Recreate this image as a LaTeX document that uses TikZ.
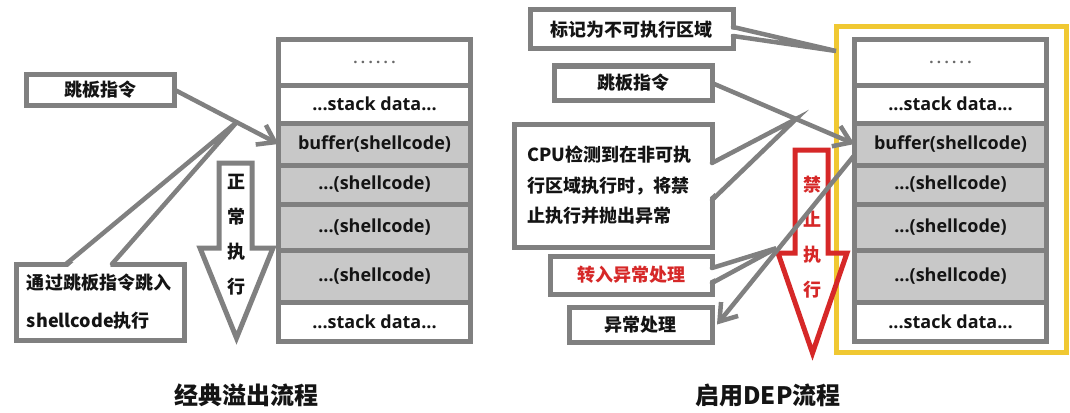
\documentclass[tikz,border=0pt]{standalone}
\usepackage{fontspec}
\setmainfont{Noto Sans CJK SC}
\newfontfamily\latn{Open Sans}
\newfontfamily\dotsfont{Open Sans}[LetterSpace=22]
\usetikzlibrary{arrows.meta,calc}

\definecolor{edge}{RGB}{128,128,128}
\definecolor{shade}{RGB}{200,200,200}
\definecolor{zone}{RGB}{240,200,50}
\definecolor{alert}{RGB}{214,40,40}
\definecolor{ink}{RGB}{20,20,20}
\definecolor{dotgray}{RGB}{105,105,105}

\begin{document}
\begin{tikzpicture}[x=1pt,y=-1pt,
  frame/.style={draw=edge,line width=5pt,outer sep=0pt},
  cell/.style={frame,minimum width=192pt,inner sep=0pt,text=ink,
    font=\latn\bfseries\fontsize{18}{20}\selectfont},
  hot/.style={cell,fill=shade},
  filler/.style={cell,text=dotgray,font=\dotsfont\bfseries\fontsize{15}{15}\selectfont},
  tag/.style={frame,fill=white,inner sep=0pt,text=ink,
    font=\bfseries\fontsize{18}{22}\selectfont},
  conn/.style={draw=edge,line width=4.5pt,-{Straight Barb[length=16pt,width=22pt]}},
  wedge/.style={draw=edge,line width=4.5pt,line cap=round},
  gap/.style={fill=white},
  flow/.style={line width=5pt,line join=miter},
  vtext/.style={align=center,font=\bfseries\fontsize{18}{35}\selectfont},
  title/.style={font=\bfseries\fontsize{24}{28}\selectfont,text=ink},
]
\fill[white] (0,0) rectangle (1070,412);
\path[use as bounding box] (0,0) rectangle (1070,412);

% region marked as non-executable
\node[draw=zone,line width=5pt,outer sep=0pt,minimum width=230pt,minimum height=325pt] (nx) at (951,189.5) {};

% classic stack
\node[filler,minimum height=45pt] (L1) at (374.5,62.5) {......};
\node[cell,minimum height=38pt] (L2) at (374.5,104) {...stack data...};
\node[hot,minimum height=42pt] (L3) at (374.5,144) {buffer(shellcode)};
\node[hot,minimum height=39pt] (L4) at (374.5,184.5) {...(shellcode)};
\node[hot,minimum height=46pt] (L5) at (374.5,227) {...(shellcode)};
\node[hot,minimum height=52pt] (L6) at (374.5,276) {...(shellcode)};
\node[cell,minimum height=39pt] (L7) at (374.5,321.5) {...stack data...};

% DEP stack
\node[filler,minimum height=45pt] (R1) at (950.5,62.5) {......};
\node[cell,minimum height=38pt] (R2) at (950.5,104) {...stack data...};
\node[hot,minimum height=42pt] (R3) at (950.5,144) {buffer(shellcode)};
\node[hot,minimum height=39pt] (R4) at (950.5,184.5) {...(shellcode)};
\node[hot,minimum height=46pt] (R5) at (950.5,227) {...(shellcode)};
\node[hot,minimum height=52pt] (R6) at (950.5,276) {...(shellcode)};
\node[cell,minimum height=39pt] (R7) at (950.5,321.5) {...stack data...};

% big flow arrows
\draw[flow,draw=edge] (219,163) -- (252,163) -- (252,248) -- (273,248) -- (236.5,338)
  -- (200,248) -- (219,248) -- cycle;
\node[vtext,text=ink] (normal) at (236,234.5) {正\\常\\执\\行};
\draw[flow,draw=alert] (795,150) -- (828,150) -- (828,253) -- (847,253) -- (812.5,353)
  -- (778,253) -- (795,253) -- cycle;
\node[vtext,text=alert] (deny) at (812,237.5) {禁\\止\\执\\行};

% labels, classic flow
\node[tag,minimum width=148pt,minimum height=31pt] (ltramp) at (100,89.5) {跳板指令};
\node[tag,minimum width=168pt,minimum height=76pt,text width=146pt,inner xsep=11pt,align=left,
  font=\bfseries\fontsize{18}{38}\selectfont] (ljump) at (100,302) {通过跳板指令跳入\\shellcode执行};

% labels, DEP flow
\node[tag,minimum width=203pt,minimum height=39pt] (mark) at (631.5,29.5) {标记为不可执行区域};
\node[tag,minimum width=158pt,minimum height=34pt] (rtramp) at (633,83) {跳板指令};
\node[tag,minimum width=198pt,minimum height=123pt,text width=172pt,inner xsep=13pt,align=left,
  font=\bfseries\fontsize{18}{30.5}\selectfont] (cpu) at (613,185.5)
  {CPU检测到在非可执\\行区域执行时，将禁\\止执行并抛出异常};
\node[tag,minimum width=162pt,minimum height=38pt,text=alert] (trans) at (631,275) {转入异常处理};
\node[tag,minimum width=143pt,minimum height=35pt] (exc) at (640.5,324.5) {异常处理};

% callout tips
\coordinate (lpt) at ($(ltramp.east)!0.6!(L3.west)$);
\coordinate (cpt) at ($(rtramp.east)!0.59!(R3.west)$);
\coordinate (rsrc) at ([yshift=-11pt]R3.west);
\coordinate (tpt) at ($(rsrc)!0.55!(exc.east)$);
\coordinate (mpt) at ([yshift=-24pt]nx.north west);

% open the box borders under the callout wedges
\fill[gap] ($(ljump.north west)+(52,3)$) -- (lpt) -- ($(ljump.north west)+(94,3)$) -- cycle;
\fill[gap] ($(mark.north east)+(-3,19)$) -- (mpt) -- ($(mark.north east)+(-3,24)$) -- cycle;
\fill[gap] ($(cpu.north east)+(-3,41)$) -- (cpt) -- ($(cpu.north east)+(-3,74)$) -- cycle;
\fill[gap] ($(trans.north east)+(-3,14)$) -- (tpt) -- ($(trans.north east)+(-3,25)$) -- cycle;

% connectors
\draw[conn] (ltramp.east) -- (L3.west);
\draw[conn] (rtramp.east) -- (R3.west);
\draw[conn] (rsrc) -- ([xshift=5pt]exc.east);

% callout wedges
\draw[wedge] ($(ljump.north west)+(50,0)$) -- (lpt) -- ($(ljump.north west)+(96,0)$);
\draw[wedge] ($(mark.north east)+(0,17)$) -- (mpt) -- ($(mark.north east)+(0,26)$);
\draw[wedge] ($(cpu.north east)+(0,39)$) -- (cpt) -- ($(cpu.north east)+(0,76)$);
\draw[wedge] ($(trans.north east)+(0,12)$) -- (tpt) -- ($(trans.north east)+(0,27)$);

% captions
\node[title] (t1) at (246,395) {经典溢出流程};
\node[title] (t2) at (768,395) {启用DEP流程};
\end{tikzpicture}
\end{document}
